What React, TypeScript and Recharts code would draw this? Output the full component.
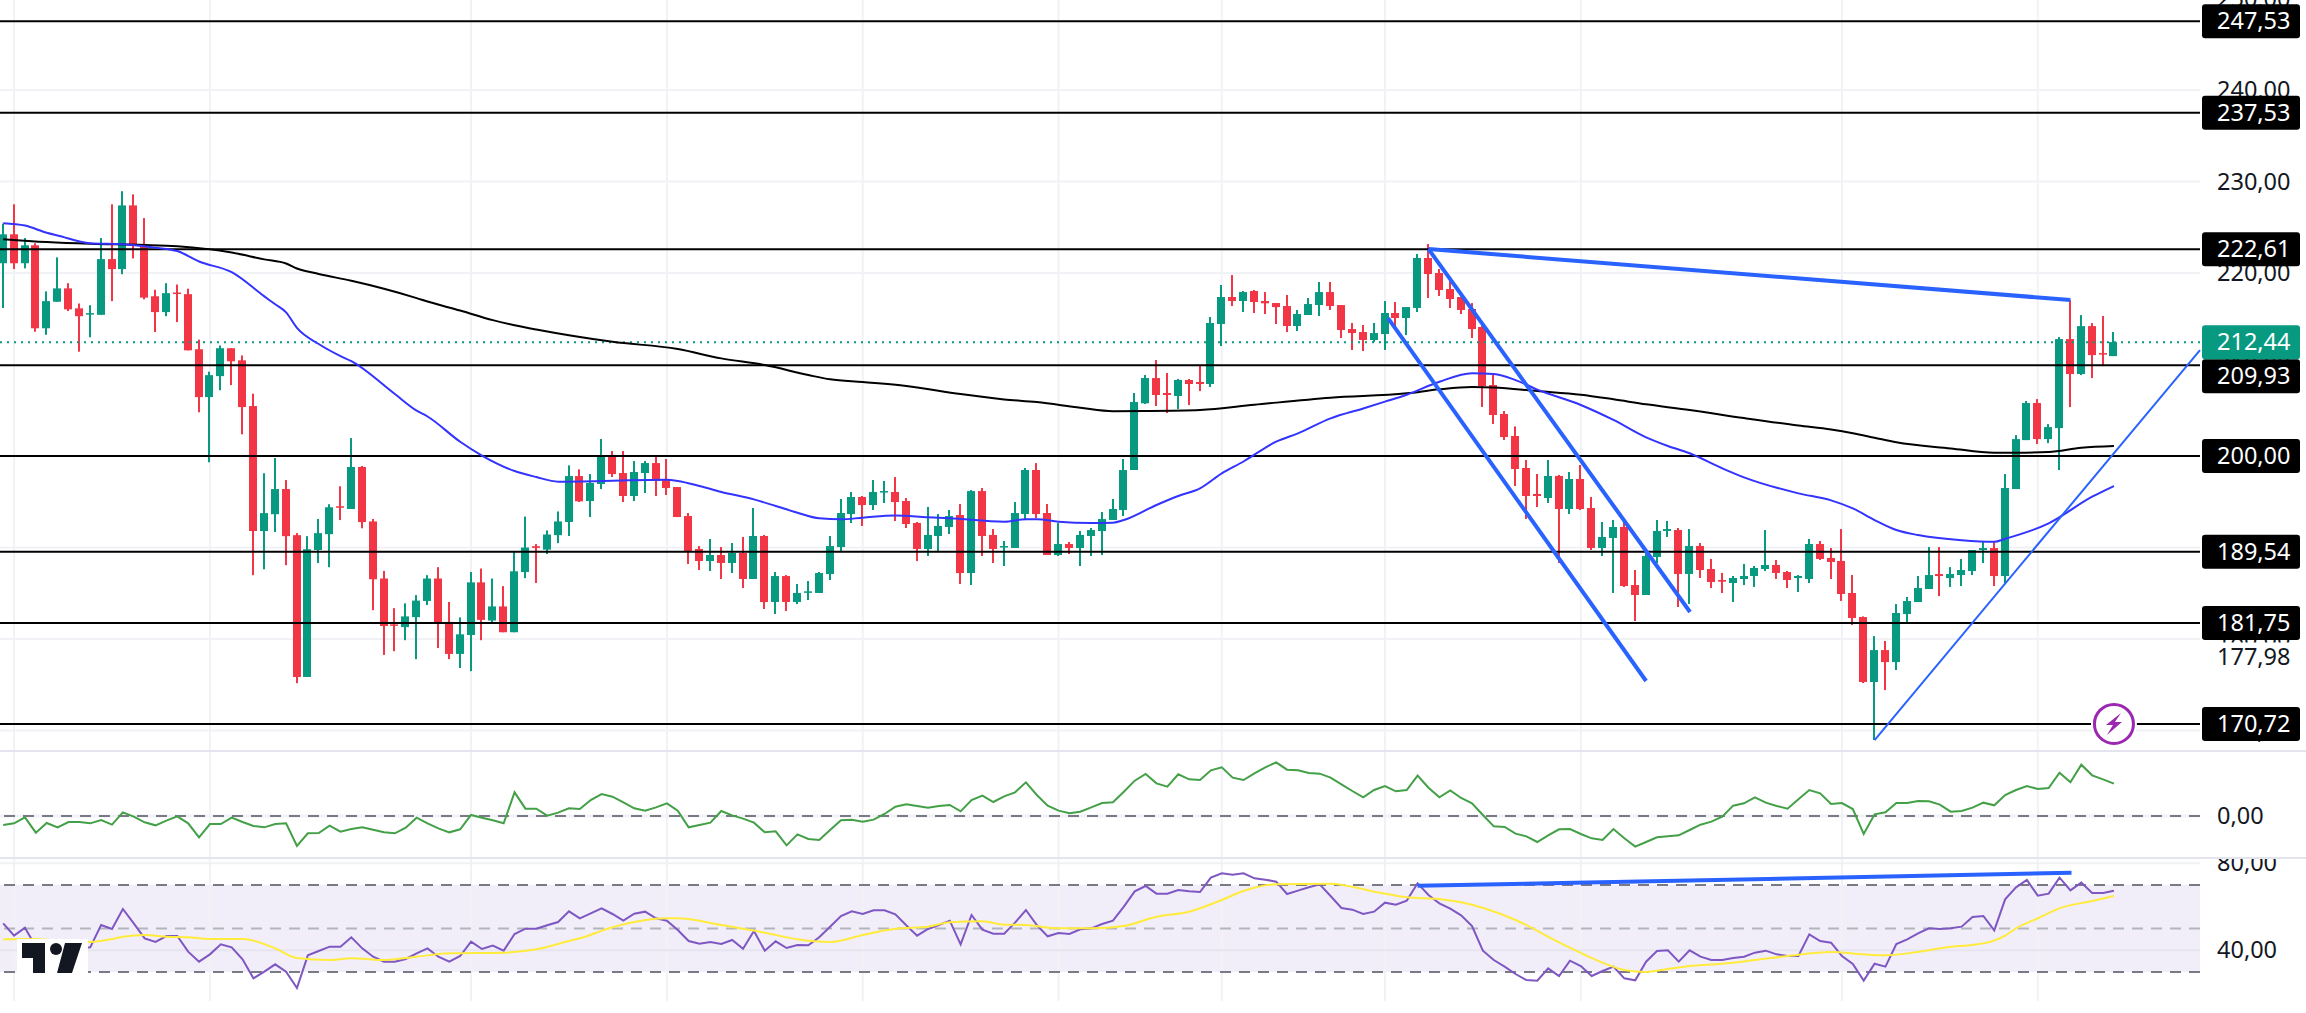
import React from 'react';
import { ComposedChart, Bar, Line, XAxis, YAxis, ReferenceLine, ReferenceArea, ReferenceDot } from 'recharts';

const highs = [
  225.40,227.51,223.82,223.25,217.99,221.71,218.89,216.67,216.48,223.82,227.51,228.94,228.60,
  226.00,218.17,218.89,218.74,218.29,212.72,209.22,212.08,211.78,210.99,206.81,198.12,199.78,
  197.37,191.57,191.24,193.12,194.73,196.69,201.96,198.91,193.12,187.44,183.37,183.90,184.80,
  186.98,187.85,184.05,182.36,187.32,187.70,186.61,185.78,189.58,193.38,190.37,191.87,193.94,
  198.98,198.54,198.03,201.86,200.55,200.55,199.45,199.45,200.11,199.67,196.61,193.77,190.16,
  190.93,190.05,190.49,191.15,194.32,191.37,187.32,186.99,186.01,186.34,187.32,191.26,195.30,
  196.07,195.63,197.38,197.27,197.70,195.41,192.79,194.43,193.66,194.10,194.75,196.28,196.50,
  192.02,190.71,194.97,198.69,199.23,194.75,192.68,190.60,191.80,192.13,193.88,195.30,
  199.67,206.89,208.85,210.49,209.07,208.42,208.42,209.95,215.19,218.69,219.78,218.03,218.14,
  217.92,216.72,217.60,215.96,217.27,219.02,219.02,216.50,214.54,214.32,214.54,216.94,216.83,
  216.28,222.08,223.17,220.44,219.13,217.38,216.72,214.32,209.07,204.92,203.24,199.57,198.04,
  199.57,197.93,198.25,199.02,195.52,192.79,193.01,192.79,187.54,189.62,193.01,192.90,192.13,
  192.02,190.49,188.75,187.22,186.89,188.20,187.98,191.91,188.64,187.43,186.99,190.93,190.71,
  189.95,192.02,187.00,182.47,180.32,179.78,183.82,184.59,186.88,190.05,190.05,187.86,188.74,
  189.72,190.60,190.60,198.03,202.29,206.01,206.22,203.49,213.00,217.04,215.40,214.53,215.30,213.55,
];
const lows = [
  216.18,220.43,220.51,213.58,213.25,216.86,215.84,211.40,212.98,215.43,216.93,219.87,221.60,
  217.12,213.55,215.28,214.64,211.55,204.78,199.32,207.19,207.75,202.37,186.98,187.62,191.69,
  188.07,175.17,175.85,188.30,187.85,193.00,194.21,192.10,183.15,178.26,178.67,179.87,177.80,
  183.71,179.01,177.80,176.83,176.49,179.87,181.75,180.74,180.74,186.65,186.12,189.28,190.48,
  191.26,194.97,193.33,196.39,197.70,194.97,195.08,195.96,195.63,195.74,193.33,188.20,187.54,
  187.43,186.56,187.21,185.57,186.56,183.28,182.73,183.06,183.82,184.26,185.03,186.45,189.62,
  192.68,192.35,194.10,194.86,192.90,192.13,188.52,189.07,189.51,191.47,186.01,185.90,189.07,
  188.31,187.98,189.95,193.00,193.22,189.18,189.07,189.29,187.98,189.07,189.18,193.01,
  193.44,198.47,205.68,205.46,204.70,205.14,205.57,207.10,207.54,212.02,216.39,215.74,215.63,
  215.52,214.43,213.55,213.66,215.41,215.30,215.96,212.90,211.59,211.48,212.46,211.59,213.88,
  213.22,215.74,217.27,217.49,216.18,215.52,212.90,205.36,203.50,201.75,196.72,193.12,194.43,
  194.87,188.31,193.66,194.10,189.73,189.07,185.03,185.69,181.97,184.81,188.31,191.15,183.50,
  183.83,186.67,185.57,185.03,184.05,185.90,185.69,187.43,186.56,185.57,185.14,186.12,188.64,
  186.56,184.16,181.53,175.19,168.96,174.42,176.61,181.74,184.04,185.46,184.69,185.68,185.79,
  186.99,188.30,185.79,186.01,196.39,201.74,201.31,201.41,198.46,205.35,208.85,208.52,209.83,210.92,
];
const opens = [
  221.07,224.23,221.07,223.03,213.96,216.86,218.32,216.14,215.47,215.43,221.52,220.43,227.39,
  223.10,217.46,215.73,217.87,217.69,211.67,206.44,208.73,211.78,210.46,205.46,191.80,193.64,
  196.39,191.35,175.85,189.73,191.46,194.51,194.21,198.80,192.85,186.61,181.60,181.30,182.39,
  184.16,186.61,181.87,178.37,180.44,186.19,182.02,183.56,180.74,187.32,190.14,189.77,191.35,
  192.79,197.81,195.08,196.94,199.89,198.14,195.63,198.14,199.23,197.45,196.61,193.44,189.84,
  188.52,189.18,188.31,189.40,186.56,191.26,184.04,186.88,184.04,185.06,185.03,187.10,190.05,
  193.66,195.52,194.64,196.03,196.07,195.08,192.68,189.84,191.26,192.24,193.55,187.21,196.17,
  191.37,190.02,189.95,193.66,198.47,193.77,189.18,190.38,189.95,191.26,191.80,193.01,
  194.10,198.47,205.76,208.52,206.89,206.56,208.31,208.09,207.87,214.43,217.38,216.94,218.03,
  216.94,216.72,216.39,214.21,215.41,216.50,217.92,216.50,213.88,213.55,212.68,213.33,215.63,
  215.08,216.18,221.64,220.00,218.25,217.38,216.07,214.10,207.76,204.59,202.19,198.69,195.85,
  195.41,197.82,194.21,197.49,194.32,189.95,191.04,192.24,185.90,184.81,188.96,191.81,191.91,
  187.11,190.17,187.65,186.45,186.12,186.56,186.89,187.65,188.09,187.32,186.67,186.56,190.38,
  188.86,188.53,185.03,182.40,175.30,178.79,177.48,182.73,184.04,185.46,187.10,186.66,186.99,
  187.43,189.72,189.94,186.88,196.39,201.74,205.79,201.85,203.05,212.78,208.96,214.20,211.25,210.92,
];
const closes = [
  224.23,221.07,223.03,213.96,216.93,218.32,216.03,215.28,215.62,221.52,220.43,227.39,222.99,
  217.31,215.73,217.80,217.76,211.55,206.44,208.84,211.78,210.35,205.35,191.80,193.76,196.39,
  191.24,175.85,189.81,191.57,194.40,194.36,198.80,192.78,186.53,181.42,181.45,182.47,184.20,
  186.61,181.75,178.37,180.51,186.19,182.09,183.56,180.74,187.40,190.00,189.96,191.42,192.85,
  197.81,195.05,197.05,199.89,198.03,195.63,198.25,199.23,197.27,196.50,193.33,189.51,188.52,
  189.18,188.31,189.40,186.56,191.26,184.04,186.88,184.04,185.03,185.21,187.21,190.16,193.77,
  195.52,194.64,196.07,196.17,194.97,192.57,189.84,191.37,192.35,193.44,187.21,196.17,191.26,
  189.84,190.16,193.77,198.47,193.66,189.18,190.38,189.95,191.37,191.91,193.11,194.21,
  198.47,205.90,208.52,206.67,206.67,208.31,207.87,207.87,214.54,217.38,216.94,217.92,216.83,
  216.69,216.28,214.21,215.52,216.61,217.92,216.39,213.77,213.44,212.68,213.44,215.63,215.08,
  216.28,221.64,219.89,218.14,217.16,215.96,213.88,207.65,204.48,202.08,198.58,195.63,195.63,
  197.82,194.21,197.49,194.21,189.95,191.15,192.24,185.79,184.81,189.07,191.81,192.02,187.11,
  190.17,187.54,186.23,186.27,186.67,186.89,187.76,188.09,187.22,186.45,186.89,190.38,188.75,
  188.42,184.92,182.30,175.30,178.79,177.48,182.84,184.15,185.57,186.99,186.88,187.10,187.54,
  189.72,189.94,186.88,196.50,201.85,205.79,201.85,203.16,212.78,208.96,214.20,211.03,211.11,212.45,
];

const blueMaIdx = [1,3,5,6,9,12,15,17,19,22,25,26,27,28,30,32,33,37,39,40,43,45,48,50,52,62,63,65,67,70,72,74,76,78,80,83,86,88,93,95,96,98,101,103,104,107,109,111,113,115,118,120,123,126,128,130,133,136,138,140,142,146,149,152,154,156,159,161,166,169,171,173,175,177,181,184,185,189,193,195];
const blueMaVal = [225.45,225.19,224.40,224.10,223.26,223.15,222.77,222.40,221.26,220.09,217.45,216.58,215.70,214.00,212.24,210.92,210.36,206.77,204.96,204.32,201.56,200.05,198.36,197.70,197.20,197.40,197.27,196.72,196.07,195.26,194.54,193.80,193.19,193.08,193.26,193.50,193.30,193.20,192.82,193.08,193.08,192.82,192.68,192.71,193.00,194.65,195.63,196.47,198.10,199.40,201.57,202.48,204.12,205.20,205.94,206.70,208.12,209.04,208.96,208.30,207.25,205.58,203.94,202.04,201.10,200.30,198.66,197.67,195.92,195.15,194.27,193.00,191.91,191.36,190.80,190.63,190.95,192.64,195.55,196.72];
const blackMaIdx = [1,5,9,14,17,22,25,27,28,30,33,36,39,40,43,46,48,50,57,63,67,71,75,77,80,84,89,93,96,100,103,106,111,116,123,130,133,136,138,142,146,149,152,156,161,166,169,171,173,175,180,184,186,189,192,195];
const blackMaVal = [223.70,223.38,223.19,223.07,222.92,222.24,221.49,221.04,220.50,219.90,219.15,218.28,217.26,216.88,215.90,214.85,214.30,213.83,212.49,211.69,210.67,209.94,208.85,208.38,208.08,207.65,206.77,206.19,205.90,205.28,204.90,204.92,205.03,205.60,206.37,206.85,207.29,207.54,207.50,207.10,206.70,206.20,205.65,205.03,204.15,203.33,202.90,202.50,202.00,201.50,200.83,200.36,200.36,200.43,200.90,201.09];

const oscValues = [
  -0.27,-0.22,-0.04,-0.50,-0.21,-0.34,-0.18,-0.18,-0.22,-0.12,-0.26,0.11,-0.02,-0.19,-0.28,-0.14,-0.01,-0.22,-0.64,-0.24,-0.24,-0.05,-0.18,-0.30,-0.34,
  -0.24,-0.22,-0.90,-0.52,-0.51,-0.29,-0.47,-0.39,-0.34,-0.41,-0.49,-0.52,-0.35,-0.05,-0.22,-0.37,-0.49,-0.40,0.03,-0.05,-0.13,-0.22,0.71,0.22,0.22,
  0.01,0.10,0.23,0.21,0.48,0.66,0.58,0.41,0.23,0.16,0.26,0.38,0.16,-0.34,-0.27,-0.20,0.15,0.02,-0.08,-0.20,-0.49,-0.46,-0.88,-0.55,
  -0.69,-0.72,-0.42,-0.13,-0.11,-0.17,-0.11,0.06,0.28,0.35,0.30,0.25,0.30,0.33,0.14,0.48,0.61,0.42,0.59,0.71,1.01,0.63,0.31,0.16,0.08,0.13,
  0.26,0.39,0.41,0.73,1.06,1.26,0.98,0.88,1.25,1.10,1.08,1.37,1.46,1.15,1.08,1.28,1.46,1.61,1.39,1.37,1.29,1.27,1.15,0.95,0.75,0.56,0.78,0.90,0.74,0.78,
  1.21,0.85,0.56,0.77,0.54,0.38,0.03,-0.31,-0.33,-0.53,-0.61,-0.78,-0.58,-0.40,
  -0.39,-0.54,-0.67,-0.72,-0.39,-0.67,-0.92,-0.78,-0.64,-0.61,-0.58,-0.42,-0.26,-0.17,-0.02,0.31,0.38,0.56,0.40,0.30,
  0.22,0.50,0.78,0.68,0.36,0.39,0.21,-0.54,0.05,0.11,0.39,0.39,0.45,0.44,0.34,0.13,0.15,0.25,0.40,0.32,0.63,0.78,0.90,0.81,0.84,1.30,1.01,1.54,1.22,1.10,0.97,
];
const rsiValues = [
  52.38,46.71,50.38,41.65,40.12,43.95,40.12,40.88,41.34,51.61,49.77,58.97,52.38,45.48,43.80,46.55,46.55,39.35,34.75,38.12,42.72,41.34,35.83,27.09,30.15,
  33.53,30.15,22.64,37.66,39.66,41.65,41.65,45.94,40.88,37.05,34.75,34.75,35.98,38.58,40.88,37.05,34.75,37.36,43.95,40.58,42.11,39.81,47.47,49.93,49.93,
  51.46,52.99,57.90,54.68,56.97,59.27,56.67,53.60,56.82,57.74,54.68,53.60,49.31,44.25,43.03,43.80,42.88,44.71,40.73,48.85,39.81,44.10,41.03,42.42,
  42.26,45.94,50.84,55.75,57.90,56.67,58.36,58.36,56.51,51.46,46.71,49.77,51.61,53.60,42.72,56.21,49.47,47.63,47.63,52.69,58.51,51.61,46.40,47.93,47.47,49.62,
  50.08,52.07,53.60,60.04,67.09,69.54,66.02,66.02,67.70,67.09,66.78,73.37,75.37,74.75,75.37,73.07,72.45,71.54,65.86,67.40,68.93,70.31,64.94,59.43,58.66,56.67,57.74,61.88,60.96,62.80,
  70.77,65.40,61.57,59.12,56.06,51.15,39.81,35.52,32.45,29.08,26.32,26.02,31.69,28.16,
  35.21,32.76,28.16,30.46,32.45,27.09,26.17,34.75,39.66,39.96,34.75,39.96,37.05,35.52,35.52,36.44,37.05,38.89,39.81,38.12,
  37.36,37.36,47.32,44.25,43.49,37.36,33.68,26.02,33.83,32.45,42.88,45.02,47.78,50.08,49.77,50.08,50.84,55.29,55.75,49.16,63.41,68.93,72.30,65.10,66.02,73.37,67.55,71.08,66.32,66.32,67.40,
];
const rsiMaIdx = [1,3,9,11,12,14,16,18,20,23,26,28,31,33,36,39,42,47,50,53,54,57,62,63,67,71,74,77,80,83,86,88,91,93,95,98,101,104,107,110,113,115,118,123,127,130,133,135,140,144,148,150,152,153,156,159,162,165,169,172,174,177,180,182,184,185,186,188,190,193,195];
const rsiMaVal = [45.02,45.17,43.80,45.17,46.25,47.01,46.25,45.94,45.17,45.17,40.88,36.44,35.52,36.29,35.52,37.05,38.58,38.89,40.42,44.25,45.48,50.54,54.68,54.68,51.61,48.09,45.02,43.80,47.01,49.93,50.84,52.84,53.30,51.77,51.61,50.08,50.08,51.15,55.44,57.74,63.11,67.24,70.31,70.61,66.94,64.33,63.56,62.03,53.91,43.64,34.29,30.92,30.00,30.62,32.76,33.83,35.52,37.36,39.20,38.12,37.66,39.20,41.65,42.42,44.41,46.71,50.08,54.68,59.27,62.65,64.94];

const timeTicks = [2,20,44,62,80,98,113,128,146,170,188];
const priceTicks = [250,240,230,220,210,200,190,180,170,177.98];
const supportLevels = [247.53,237.53,222.61,209.93,200,189.54,181.75,170.72];
const lastPrice = 212.44;
const maskedTick = 177.98;
const trendLines = [
  { a: [132, 222.62], b: [191, 217.05], w: 4 },
  { a: [132, 222.62], b: [156.04, 182.95], w: 4 },
  { a: [128.28, 215.08], b: [152, 175.41], w: 4 },
  { a: [173, 168.96], b: [202.91, 211.58], w: 2 },
];
const rsiTrend = { a: [131, 69.6], b: [191.1, 75.6] };

const X_DOMAIN = [0.706, 202.91];
const PRICE_DOMAIN = [167.76, 249.84];
const rows = highs.map((h, k) => {
  const i = k + 1;
  const bi = blueMaIdx.indexOf(i);
  const ki = blackMaIdx.indexOf(i);
  const yi = rsiMaIdx.indexOf(i);
  return {
    i, high: h, low: lows[k], open: opens[k], close: closes[k],
    blue: bi >= 0 ? blueMaVal[bi] : null,
    black: ki >= 0 ? blackMaVal[ki] : null,
    osc: oscValues[k], rsi: rsiValues[k],
    rsiMa: yi >= 0 ? rsiMaVal[yi] : null,
  };
});

const FONT = '"Noto Sans", sans-serif';
const FS = 23.5;
const TX = 2217;
const fmt = (v) => v.toFixed(2).replace('.', ',');
const GREEN = '#089981';
const RED = '#f23645';
const GRID = '#f1f2f5';
const BLUE = '#2962ff';

function Candle(props) {
  const { x, y, width, height, payload } = props;
  if (!payload || height == null) return null;
  const { high, low, open, close } = payload;
  const ppu = Math.abs(height) / (high - low || 1);
  const top = Math.min(y, y + height);
  const up = close >= open;
  const color = up ? GREEN : RED;
  const bt = top + (high - Math.max(open, close)) * ppu;
  const bb = top + (high - Math.min(open, close)) * ppu;
  const cx = Math.round(x + width / 2);
  return (
    <g>
      <rect x={cx - 1} y={top} width={2} height={Math.abs(height)} fill={color} />
      <rect x={cx - 4} y={bt} width={8} height={Math.max(bb - bt, 1.5)} fill={color} />
    </g>
  );
}

function AxisTick({ y, payload }) {
  return (
    <g>
      {payload.value === maskedTick ? <rect x={2202} y={y - 15} width={98} height={32} fill="#ffffff" /> : null}
      <text x={TX} y={y} dy={8} fontFamily={FONT} fontSize={FS} fill="#131722" textAnchor="start">
        {fmt(payload.value)}
      </text>
    </g>
  );
}

const tag = (value, fill, dy) => (props) => {
  const vb = props.viewBox;
  const cy = vb.y + dy;
  return (
    <g>
      <rect x={2202} y={cy - 17} width={98} height={34} rx={3} fill={fill} />
      <text x={TX} y={cy} dy={8} fontFamily={FONT} fontSize={FS} fill="#ffffff" textAnchor="start">
        {fmt(value)}
      </text>
    </g>
  );
};

function Flash(props) {
  const { cx, cy } = props;
  return (
    <g>
      <circle cx={cx} cy={cy} r={23} fill="#ffffff" />
      <circle cx={cx} cy={cy} r={19.5} fill="#ffffff" stroke="#9c27b0" strokeWidth={3} />
      <path
        d={`M${cx + 7} ${cy - 11} L${cx - 8} ${cy + 1} L${cx - 1} ${cy + 1} L${cx - 7} ${cy + 11} L${cx + 8} ${cy - 2} L${cx + 1} ${cy - 2} Z`}
        fill="#9c27b0"
      />
    </g>
  );
}

const vertical = (keyPrefix) =>
  timeTicks.map((t) => <ReferenceLine key={keyPrefix + t} x={t} stroke={GRID} strokeWidth={2} />);

const axisX = <XAxis dataKey="i" type="number" domain={X_DOMAIN} allowDataOverflow hide />;
const margin = { top: 0, right: 0, bottom: 0, left: 0 };

function PriceAxisLayer() {
  return (
    <ComposedChart width={2306} height={751} data={rows} margin={margin} style={{ position: 'absolute', left: 0, top: 0 }}>
      {axisX}
      <YAxis orientation="right" width={106} type="number" domain={PRICE_DOMAIN} allowDataOverflow ticks={priceTicks} interval={0} tick={AxisTick} axisLine={false} tickLine={false} />
      {vertical('v')}
      {[240,230,220,190,180,170].map((v) => <ReferenceLine key={'h' + v} y={v} stroke={GRID} strokeWidth={2} />)}
    </ComposedChart>
  );
}

function PriceChart() {
  return (
    <ComposedChart width={2306} height={751} data={rows} margin={margin} style={{ position: 'absolute', left: 0, top: 0 }}>
      {axisX}
      <YAxis orientation="right" width={106} type="number" domain={PRICE_DOMAIN} allowDataOverflow tick={false} axisLine={false} tickLine={false} />
      {supportLevels.map((v) => (
        <ReferenceLine key={'l' + v} y={v} stroke="#000000" strokeWidth={2} label={tag(v, '#000000', v === 209.93 ? 11 : 0)} />
      ))}
      <ReferenceLine y={lastPrice} stroke={GREEN} strokeWidth={2} strokeDasharray="2 5" label={tag(lastPrice, GREEN, 0)} />
      <Line dataKey="black" type="monotone" connectNulls stroke="#000000" strokeWidth={2} dot={false} activeDot={false} isAnimationActive={false} />
      <Line dataKey="blue" type="monotone" connectNulls stroke="#3333ff" strokeWidth={2} dot={false} activeDot={false} isAnimationActive={false} />
      <Bar dataKey={(d) => [d.low, d.high]} barSize={8} shape={Candle} isAnimationActive={false} />
      {trendLines.map((t, n) => (
        <ReferenceLine key={'t' + n} segment={[{ x: t.a[0], y: t.a[1] }, { x: t.b[0], y: t.b[1] }]} stroke={BLUE} strokeWidth={t.w} ifOverflow="visible" />
      ))}
      <ReferenceDot x={195} y={170.72} shape={Flash} ifOverflow="visible" />
    </ComposedChart>
  );
}

function OscChart() {
  return (
    <ComposedChart width={2306} height={106} data={rows} margin={margin} style={{ position: 'absolute', left: 0, top: 752 }}>
      {axisX}
      <YAxis orientation="right" width={106} type="number" domain={[-1.26, 1.92]} allowDataOverflow ticks={[0]} interval={0} tick={AxisTick} axisLine={false} tickLine={false} />
      {vertical('v')}
      <ReferenceLine y={0} stroke={GRID} strokeWidth={3} />
      <ReferenceLine y={0} stroke="#787b86" strokeWidth={2} strokeDasharray="11 8" />
      <Line dataKey="osc" stroke="#43a047" strokeWidth={2} dot={false} activeDot={false} isAnimationActive={false} />
    </ComposedChart>
  );
}

function RsiChart() {
  return (
    <ComposedChart width={2306} height={142} data={rows} margin={margin} style={{ position: 'absolute', left: 0, top: 859 }}>
      {axisX}
      <YAxis orientation="right" width={106} type="number" domain={[16.67, 81.95]} allowDataOverflow ticks={[80, 40]} interval={0} tick={AxisTick} axisLine={false} tickLine={false} />
      <ReferenceArea x1={X_DOMAIN[0]} x2={X_DOMAIN[1]} y1={30} y2={70} fill="#7e57c2" fillOpacity={0.1} stroke="none" />
      {vertical('v')}
      <ReferenceLine y={80} stroke={GRID} strokeWidth={2} />
      <ReferenceLine y={40} stroke="#e6e4ee" strokeWidth={2} />
      <ReferenceLine y={70} stroke="#787b86" strokeWidth={2} strokeDasharray="11 8" />
      <ReferenceLine y={50} stroke="#b2b5be" strokeWidth={2} strokeDasharray="11 8" />
      <ReferenceLine y={30} stroke="#787b86" strokeWidth={2} strokeDasharray="11 8" />
      <Line dataKey="rsi" stroke="#7e57c2" strokeWidth={2} dot={false} activeDot={false} isAnimationActive={false} />
      <Line dataKey="rsiMa" type="monotone" connectNulls stroke="#ffeb3b" strokeWidth={2} dot={false} activeDot={false} isAnimationActive={false} />
      <ReferenceLine segment={[{ x: rsiTrend.a[0], y: rsiTrend.a[1] }, { x: rsiTrend.b[0], y: rsiTrend.b[1] }]} stroke={BLUE} strokeWidth={4} ifOverflow="visible" />
    </ComposedChart>
  );
}

function Logo() {
  return (
    <svg width={100} height={40} style={{ position: 'absolute', left: 0, top: 936 }}>
      <rect x={17} y={3} width={71} height={34} fill="#ffffff" />
      <path d="M22 7 H45 V37 H33 V22 H22 Z" fill="#131722" />
      <circle cx={56} cy={13} r={6} fill="#131722" />
      <path d="M65 7 H82 L72 37 H57 Z" fill="#131722" />
    </svg>
  );
}

export default function App() {
  return (
    <div style={{ position: 'absolute', left: 0, top: 0, width: 2306, height: 1013, background: '#ffffff', overflow: 'hidden' }}>
      <PriceAxisLayer />
      <PriceChart />
      <OscChart />
      <RsiChart />
      <div style={{ position: 'absolute', left: 0, top: 750, width: 2306, height: 2, background: '#e4e4ef' }} />
      <div style={{ position: 'absolute', left: 0, top: 857, width: 2306, height: 2, background: '#e4e4ef' }} />
      <Logo />
    </div>
  );
}
